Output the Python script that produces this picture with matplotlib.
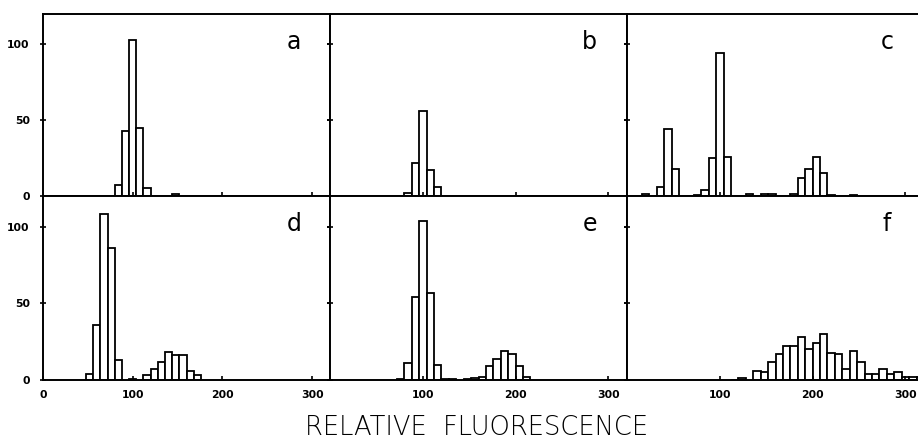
import matplotlib
matplotlib.use("Agg")
import matplotlib.pyplot as plt

# histogram bins (centres, width 8) and counts
bin_width = 8

centers_a = [84, 92, 100, 108, 116, 148]
counts_a = [7, 43, 103, 45, 5, 1]

centers_b = [84, 92, 100, 108, 116]
counts_b = [2, 22, 56, 17, 6]

centers_c = [20, 36, 44, 52, 76, 84, 92, 100, 108, 132, 148, 156,
             180, 188, 196, 204, 212, 220, 244]
counts_c = [1, 6, 44, 18, 0.7, 4, 25, 94, 26, 1.5, 1, 1,
            1.5, 12, 18, 26, 15, 0.5, 0.6]

centers_d = [52, 60, 68, 76, 84, 100, 116, 124, 132, 140, 148, 156, 164, 172]
counts_d = [4, 36, 108, 86, 13, 0.5, 3, 7, 12, 18, 16, 16, 6, 3]

centers_e = [76, 84, 92, 100, 108, 116, 124, 132, 148, 156,
             164, 172, 180, 188, 196, 204, 212]
counts_e = [0.5, 11, 54, 104, 57, 10, 0.8, 0.5, 0.5, 1,
            2, 9, 14, 19, 17, 9, 2]

centers_f = [116, 124, 140, 148, 156, 164, 172, 180, 188, 196, 204, 212,
             220, 228, 236, 244, 252, 260, 268, 276, 284, 292, 300, 308, 316]
counts_f = [0.3, 1, 6, 5, 12, 17, 22, 22, 28, 20, 24, 30,
            17.5, 17, 7, 19, 12, 4, 4, 7, 4, 5, 2, 2, 2]

panel_letters = ["a", "b", "c", "d", "e", "f"]
y_ticks = [0, 50, 100]

W, H = 918, 440
fig = plt.figure(figsize=(W / 100, H / 100), dpi=100)

# pixel layout: column left edges/widths, row top/bottom
cols = [(43, 287), (330, 297), (627, 297)]
rows = [(14, 196), (196, 380)]

data = [(centers_a, counts_a), (centers_b, counts_b), (centers_c, counts_c),
        (centers_d, counts_d), (centers_e, counts_e), (centers_f, counts_f)]

for i, (cx, cy) in enumerate(data):
    r, c = divmod(i, 3)
    left, width = cols[c]
    top, bottom = rows[r]
    ax = fig.add_axes([left / W, (H - bottom) / H, width / W, (bottom - top) / H])
    ax.bar(cx, cy, width=bin_width, facecolor="white", edgecolor="black",
           linewidth=1.3)
    ax.set_xlim(0, 320)
    ax.set_ylim(0, 120)
    for s in ax.spines.values():
        s.set_linewidth(1.4)
    ax.set_yticks(y_ticks)
    ax.tick_params(axis="y", which="both", direction="inout", length=5,
                   width=1.2, left=True, right=True, labelsize=7.8, pad=7)
    if r == 1:
        ax.set_xticks([0, 100, 200, 300] if c == 0 else [100, 200, 300])
    else:
        ax.set_xticks([100, 200, 300])
    ax.tick_params(axis="x", direction="in", length=3, width=1.2,
                   labelsize=7.8, pad=7, labelbottom=(r == 1))
    if c != 0:
        ax.tick_params(axis="y", labelleft=False)
    for lab in ax.get_xticklabels() + ax.get_yticklabels():
        lab.set_fontweight("bold")
    ax.text(280, 97, panel_letters[i], fontsize=17, ha="center",
            va="baseline")

fig.text(477 / W, (H - 435) / H, "RELATIVE  FLUORESCENCE", fontsize=18.5,
         fontweight="light", ha="center", va="baseline")

fig.savefig("out.png", dpi=100)
